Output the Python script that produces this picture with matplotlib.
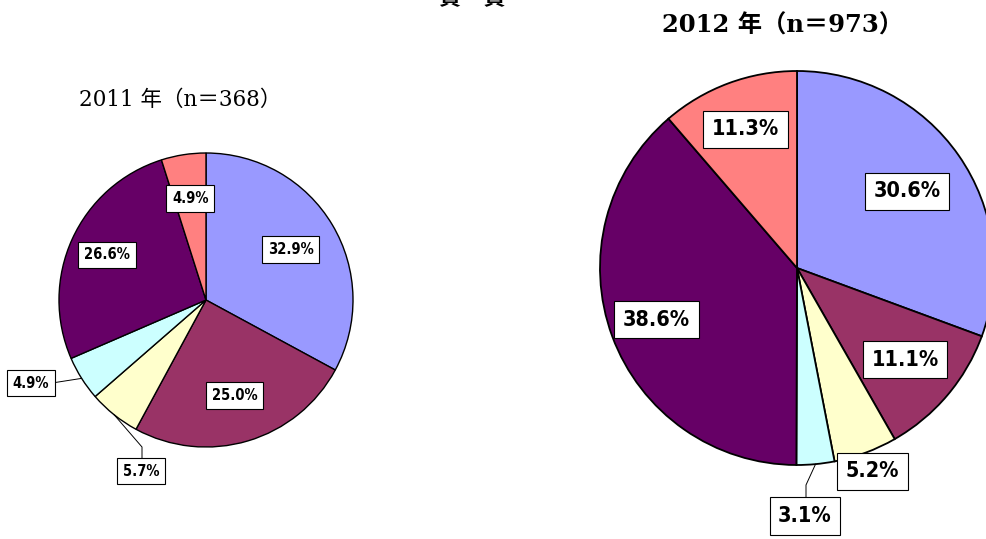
import numpy as np
import matplotlib.pyplot as plt

# data
pct_2011 = [32.9, 25.0, 5.7, 4.9, 26.6, 4.9]
pct_2012 = [30.6, 11.1, 5.2, 3.1, 38.6, 11.3]
colors = ["#9999FF", "#993366", "#FFFFCC", "#CCFFFF", "#660066", "#FF8080"]
title_2011 = "2011 年（n＝368）"
title_2012 = "2012 年（n＝973）"

W, H = 987, 539
fig = plt.figure(figsize=(W / 100, H / 100), dpi=100)
ax = fig.add_axes([0, 0, 1, 1])

title_font = ["DejaVu Serif", "Noto Sans CJK JP"]
label_font = ["DejaVu Sans"]


def py(y):
    # pixel row (from top) -> data y
    return H - y


def draw_pie(vals, cx, cy, r, fsize, lw, labels):
    wedges, _ = ax.pie(vals, colors=colors, startangle=90, counterclock=False,
                       center=(cx, py(cy)), radius=r,
                       wedgeprops=dict(edgecolor="black", linewidth=lw))
    box = dict(boxstyle="square,pad=0.4", fc="white", ec="black", lw=0.8)
    for w, v, spec in zip(wedges, vals, labels):
        ang = np.deg2rad((w.theta1 + w.theta2) / 2)
        txt = f"{v:.1f}%"
        kw = dict(ha="center", va="center", fontsize=fsize, fontweight="bold",
                  fontstretch="condensed", family=label_font, bbox=box, zorder=5)
        if spec[0] == "in":
            f = spec[1]
            x, y = cx + f * r * np.cos(ang), py(cy) + f * r * np.sin(ang)
            ax.text(x, y, txt, **kw)
        else:
            tx, ty = spec[1], py(spec[2])
            ex, ey = cx + r * np.cos(ang), py(cy) + r * np.sin(ang)
            pts = spec[3]
            xs = [ex] + [p[0] for p in pts]
            ys = [ey] + [py(p[1]) for p in pts]
            ax.plot(xs, ys, color="black", lw=0.7)
            ax.text(tx, ty, txt, **kw)


draw_pie(pct_2011, 206, 300, 147, 10.5, 1.0,
         [("in", 0.67), ("in", 0.68), ("out", 141, 471, [(142, 447), (142, 458)]),
          ("out", 31, 383, [(52, 383)]), ("in", 0.74), ("in", 0.70)])
draw_pie(pct_2012, 797, 268, 197, 15.5, 1.3,
         [("in", 0.68), ("in", 0.72), ("in", 1.10),
          ("out", 805, 516, [(806, 485), (806, 497)]), ("in", 0.76), ("in", 0.75)])

ax.text(180, py(100), title_2011, ha="center", va="center", fontsize=15.5,
        family=title_font)
ax.text(782, py(26), title_2012, ha="center", va="center", fontsize=17.5,
        fontweight="bold", family=title_font)
ax.text(472, py(-1), "貫　貫", ha="center", va="center", fontsize=16,
        fontweight="bold", family=["Noto Sans CJK JP"])

ax.set_xlim(0, W)
ax.set_ylim(0, H)
ax.set_aspect("auto")
ax.axis("off")

fig.savefig("out.png", dpi=100)
